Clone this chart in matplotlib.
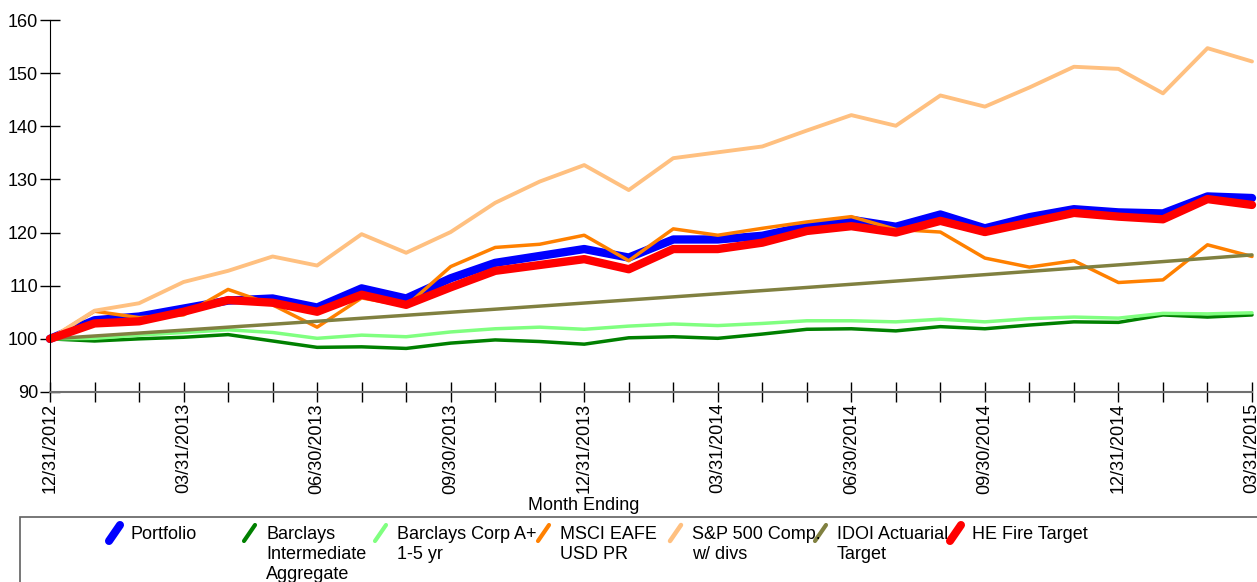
import numpy as np
import pandas as pd
import matplotlib
matplotlib.use('Agg')
import matplotlib.pyplot as plt
from matplotlib.lines import Line2D
from matplotlib.patches import Rectangle

##---------------- data ----------------------------------------
months = pd.date_range('2012-12-31', periods=28, freq='ME').strftime('%m/%d/%Y')

portfolio = [100.0, 103.5, 104.2, 105.7, 107.2, 107.6, 105.9, 109.5, 107.6, 111.4,
             114.3, 115.6, 116.9, 115.3, 118.7, 118.7, 119.4, 121.2, 122.4, 121.1,
             123.4, 120.8, 122.9, 124.4, 123.8, 123.6, 126.8, 126.5]
barclays_int = [100.0, 99.6, 100.0, 100.3, 100.8, 99.6, 98.4, 98.5, 98.2, 99.2,
                99.8, 99.5, 99.0, 100.2, 100.4, 100.1, 100.9, 101.8, 101.9, 101.5,
                102.3, 101.9, 102.6, 103.2, 103.1, 104.5, 104.1, 104.5]
barclays_corp = [100.0, 100.1, 100.7, 101.2, 101.7, 101.2, 100.1, 100.7, 100.4, 101.3,
                 101.9, 102.2, 101.8, 102.4, 102.8, 102.5, 102.9, 103.4, 103.4, 103.2,
                 103.7, 103.2, 103.8, 104.1, 103.9, 104.8, 104.7, 104.9]
msci_eafe = [100.0, 105.2, 104.0, 104.5, 109.3, 106.4, 102.2, 107.7, 106.2, 113.6,
             117.2, 117.8, 119.5, 114.7, 120.7, 119.5, 120.8, 122.0, 123.0, 120.6,
             120.1, 115.2, 113.5, 114.7, 110.6, 111.1, 117.7, 115.5]
sp500 = [100.0, 105.3, 106.7, 110.7, 112.8, 115.5, 113.8, 119.7, 116.2, 120.1,
         125.6, 129.6, 132.7, 128.0, 134.0, 135.1, 136.2, 139.2, 142.1, 140.1,
         145.8, 143.7, 147.3, 151.2, 150.8, 146.2, 154.7, 152.2]
idoi_target = [100.0, 100.54, 101.09, 101.64, 102.2, 102.75, 103.31, 103.88, 104.44, 105.01,
               105.58, 106.16, 106.74, 107.32, 107.9, 108.49, 109.08, 109.67, 110.27, 110.87,
               111.48, 112.08, 112.69, 113.31, 113.92, 114.54, 115.17, 115.8]
he_fire = [100.0, 102.9, 103.3, 105.1, 107.3, 106.8, 105.1, 108.3, 106.4, 109.7,
           112.8, 113.9, 115.0, 113.1, 116.9, 116.9, 118.1, 120.3, 121.2, 120.0,
           122.2, 120.1, 121.9, 123.7, 123.0, 122.5, 126.3, 125.2]

names = ['Portfolio', 'Barclays\nIntermediate\nAggregate', 'Barclays Corp A+\n1-5 yr',
         'MSCI EAFE\nUSD PR', 'S&P 500 Comp.\nw/ divs', 'IDOI Actuarial\nTarget', 'HE Fire Target']
series = [portfolio, barclays_int, barclays_corp, msci_eafe, sp500, idoi_target, he_fire]
colors = ['#0000FF', '#008000', '#80FF80', '#FF8000', '#FFC080', '#808040', '#FF0000']
widths = [6.0, 2.5, 2.5, 2.5, 2.8, 2.5, 6.0]
##--------------------------------------------------------------

plt.rcParams['font.family'] = ['Liberation Sans', 'DejaVu Sans']
plt.rcParams['font.size'] = 13

W, H = 1257, 582
fig = plt.figure(figsize=(W / 100, H / 100), dpi=100)
ax = fig.add_axes([50 / W, 1 - 392 / H, 1202 / W, 372 / H])

x = np.arange(len(months))
for vals, c, lw in zip(series, colors, widths):
    ax.plot(x, vals, color=c, lw=lw, solid_capstyle='round', solid_joinstyle='round', clip_on=False)

ax.set_xlim(0, len(months) - 1)
ax.set_ylim(90, 160)
ax.set_yticks(range(90, 161, 10))

ax.set_xticks(x)
ax.set_xticklabels([m if i % 3 == 0 else '' for i, m in enumerate(months)], rotation=90, va='top')

for s in ['top', 'right']:
    ax.spines[s].set_visible(False)
ax.spines['left'].set_color('black')
ax.spines['bottom'].set_color('#707070')
ax.spines['bottom'].set_linewidth(1.5)
ax.tick_params(axis='y', direction='inout', length=14, width=1, pad=1.5, labelsize=13)
ax.tick_params(axis='x', direction='inout', length=15, width=1, pad=0.5, labelsize=13)

ax.set_xlabel('Month Ending', fontsize=13)
ax.xaxis.set_label_coords((584 - 50) / 1202, -(497 - 392) / 372)

##------------- legend drawn in a box running off the page -------------
fig.add_artist(Rectangle((20 / W, -0.2), 1.2, 1 - 517 / H + 0.2, transform=fig.transFigure,
                         fill=False, edgecolor='#606060', lw=1.2))
mark_x = [109, 244, 375, 538, 670, 815, 950]
for mx, nm, c, lw in zip(mark_x, names, colors, widths):
    fig.add_artist(Line2D([mx / W, (mx + 11) / W], [1 - 541 / H, 1 - 525 / H],
                          transform=fig.transFigure, color=c, lw=lw * 0.8 + 1,
                          solid_capstyle='round'))
    fig.text((mx + 22) / W, 1 - 526 / H, nm, ha='left', va='top', fontsize=13, linespacing=1.22)

fig.savefig('out.png', dpi=100)
